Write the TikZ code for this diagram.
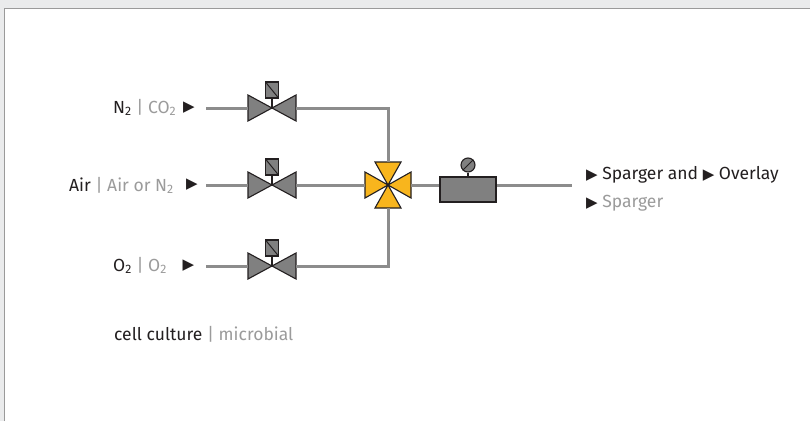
\documentclass[tikz,border=0pt]{standalone}
\usepackage{fontspec}
\setmainfont{Fira Sans}
\newfontfamily\symfont{DejaVu Sans}
\definecolor{bggray}{HTML}{EAEBEC}
\definecolor{bordergray}{HTML}{9A9A9A}
\definecolor{pipegray}{HTML}{8C8C8C}
\definecolor{valvegray}{HTML}{808080}
\definecolor{outline}{HTML}{231F20}
\definecolor{mixyellow}{HTML}{F8B51D}
\definecolor{txtdark}{HTML}{231F20}
\definecolor{txtgray}{HTML}{9B9B9B}
\newcommand{\tri}{{\color{txtdark}\symfont\fontsize{15}{15}\selectfont ▶}}
\newcommand{\gr}[1]{\textcolor{txtgray}{#1}}
\begin{document}
\begin{tikzpicture}[x=1pt,y=-1pt,
  pipe/.style={pipegray, line width=3pt},
  lbl/.style={font=\fontsize{17.5}{20}\selectfont, text=txtdark, inner sep=0pt},
  arr/.style={inner sep=0pt, text=txtdark},
  valve/.pic={
    \coordinate (-w) at (-24,0);
    \coordinate (-e) at (24,0);
    \filldraw[fill=valvegray, draw=outline, line width=1.1pt, line join=miter]
      (-24,-13) -- (0,0) -- (-24,13) -- cycle
      (24,-13) -- (0,0) -- (24,13) -- cycle;
    \draw[outline, line width=1.1pt] (0,0) -- (0,-10);
    \filldraw[fill=valvegray, draw=outline, line width=1.1pt] (-6.5,-26) rectangle (6.5,-10);
    \draw[outline, line width=1pt] (-6.5,-26) -- (6.5,-10);
  },
  mixer/.pic={
    \coordinate (-w) at (-23,0);
    \coordinate (-e) at (23,0);
    \coordinate (-n) at (0,-23);
    \coordinate (-s) at (0,23);
    \filldraw[fill=mixyellow, draw=outline, line width=1.1pt, line join=miter]
      (-23,-13) -- (0,0) -- (-23,13) -- cycle
      (23,-13) -- (0,0) -- (23,13) -- cycle
      (-13,-23) -- (0,0) -- (13,-23) -- cycle
      (-13,23) -- (0,0) -- (13,23) -- cycle;
  }]
\useasboundingbox (0,0) rectangle (810,421);
\fill[bggray] (0,0) rectangle (810,421);
\fill[white] (4,8) rectangle (810,421);
\draw[bordergray, line width=1pt] (4,421) -- (4,8) -- (810,8);

% start / end coordinates
\coordinate (s1) at (206,108);
\coordinate (s2) at (206,185);
\coordinate (s3) at (206,266);
\coordinate (c1) at (388,108);
\coordinate (c3) at (388,266);
\coordinate (out) at (572,185);

% valves
\pic (v1) at (272,108) {valve};
\pic (v2) at (272,185) {valve};
\pic (v3) at (272,266) {valve};
\pic (mx) at (388,185) {mixer};

% pipes
\draw[pipe] (s1) -- (v1-w);
\draw[pipe] (s2) -- (v2-w);
\draw[pipe] (s3) -- (v3-w);
\draw[pipe] (v1-e) -- (c1) -- (mx-n);
\draw[pipe] (v3-e) -- (c3) -- (mx-s);
\draw[pipe] (v2-e) -- (mx-w);
\draw[pipe] (mx-e) -- (out);

% regulator
\node[draw=outline, line width=1.2pt, fill=valvegray, minimum width=56pt, minimum height=25pt, inner sep=0pt] (reg) at (468,189.5) {};
\node[draw=outline, line width=1.1pt, fill=valvegray, circle, minimum size=14pt, inner sep=0pt] (gauge) at (468,165) {};
\draw[outline, line width=1.1pt] (gauge.south) -- (reg.north);
\draw[outline, line width=1pt] (gauge.45) -- (gauge.225);

% labels
\node[lbl, anchor=base west] (l1) at (113,113) {N\textsubscript{2} \gr{| CO\textsubscript{2}}};
\node[lbl, anchor=base west] (l2) at (69,191) {Air \gr{| Air or N\textsubscript{2}}};
\node[lbl, anchor=base west] (l3) at (113,271) {O\textsubscript{2} \gr{| O\textsubscript{2}}};
\node[arr] (a1) at (189,108) {\tri};
\node[arr] (a2) at (192,185) {\tri};
\node[arr] (a3) at (188.5,266) {\tri};

\node[lbl, anchor=base west] (o1) at (586,179) {\tri\ Sparger and \tri\ Overlay};
\node[lbl, anchor=base west] (o2) at (586,207) {\tri\ \gr{Sparger}};

\node[lbl, anchor=base west] (cap) at (114,340) {cell culture \gr{| microbial}};
\end{tikzpicture}
\end{document}
